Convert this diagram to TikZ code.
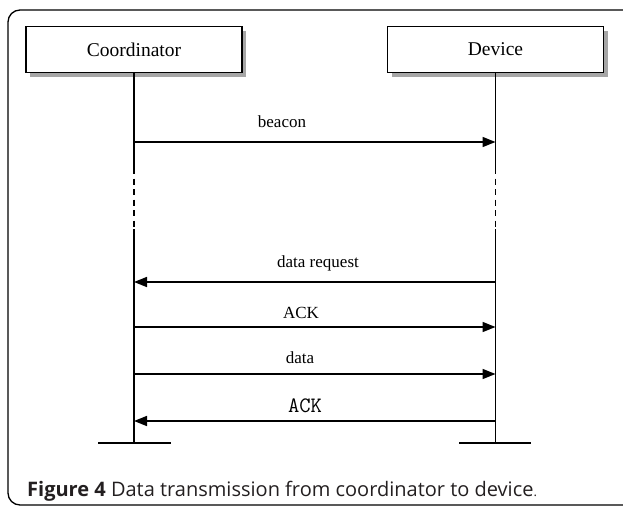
\documentclass[tikz,border=0pt]{standalone}
\usepackage{fontspec}
\setmainfont{Liberation Serif}
\newfontfamily\capfont{Open Sans}
\usetikzlibrary{arrows.meta,shadows}
\definecolor{captext}{HTML}{231F20}
\begin{document}
\begin{tikzpicture}[x=1pt,y=-1pt,
  actor/.style={draw,line width=1.4pt,fill=white,minimum width=216pt,minimum height=46pt,inner sep=0pt,
    font=\fontsize{19.5}{20}\selectfont,
    drop shadow={shadow xshift=4pt,shadow yshift=-4pt,fill=gray!70,opacity=1}},
  life/.style={line width=1.6pt},
  dashlife/.style={line width=1.6pt,dash pattern=on 6pt off 4.5pt},
  msg/.style={line width=1.6pt,-{Triangle[length=13pt,width=10pt]}},
  lbl/.style={font=\fontsize{17}{18}\selectfont,inner sep=0pt,anchor=base},
  frame/.style={line width=1.3pt,rounded corners=12pt}]
\path[use as bounding box,clip] (0,0) rectangle (623,506);
\draw[frame] (8,10) rectangle (660,505);
% actors
\node[actor] (coord) at (134,49.5) {Coordinator};
\node[actor] (dev) at (495.5,49.5) {Device};
% lifeline points
\coordinate (cda) at (134,168);
\coordinate (cdb) at (134,229);
\coordinate (cend) at (134,443);
\coordinate (cl) at (98,443);
\coordinate (cr) at (171,443);
\coordinate (dda) at (495.5,168);
\coordinate (ddb) at (495.5,229);
\coordinate (dend) at (495.5,443);
\coordinate (dl) at (459,443);
\coordinate (dr) at (531,443);
\draw[life] (coord.south) -- (cda);
\draw[dashlife] (cda) -- (cdb);
\draw[life] (cdb) -- (cend);
\draw[life] (cl) -- (cr);
\draw[life] (dev.south) -- (dda);
\draw[dashlife] (dda) -- (ddb);
\draw[life] (ddb) -- (dend);
\draw[life] (dl) -- (dr);
% messages
\coordinate (c1) at (134,142); \coordinate (d1) at (495.5,142);
\coordinate (c2) at (134,282); \coordinate (d2) at (495.5,282);
\coordinate (c3) at (134,327); \coordinate (d3) at (495.5,327);
\coordinate (c4) at (134,374); \coordinate (d4) at (495.5,374);
\coordinate (c5) at (134,421); \coordinate (d5) at (495.5,421);
\draw[msg] (c1) -- (d1);
\draw[msg] (d2) -- (c2);
\draw[msg] (c3) -- (d3);
\draw[msg] (c4) -- (d4);
\draw[msg] (d5) -- (c5);
\node[lbl] (l1) at (282,127) {beacon};
\node[lbl] (l2) at (318,267) {data request};
\node[lbl] (l3) at (301,318) {ACK};
\node[lbl] (l4) at (300,363) {data};
\node[lbl,font=\ttfamily\fontsize{22}{22}\selectfont] (l5) at (305,412) {ACK};
% caption
\node[anchor=base west,inner sep=0pt,text=captext,font=\capfont\fontsize{20}{22}\selectfont] (cap) at (27,496)
  {\textbf{Figure 4} Data transmission from coordinator to device{\fontsize{13}{13}\selectfont.}};
\end{tikzpicture}
\end{document}
